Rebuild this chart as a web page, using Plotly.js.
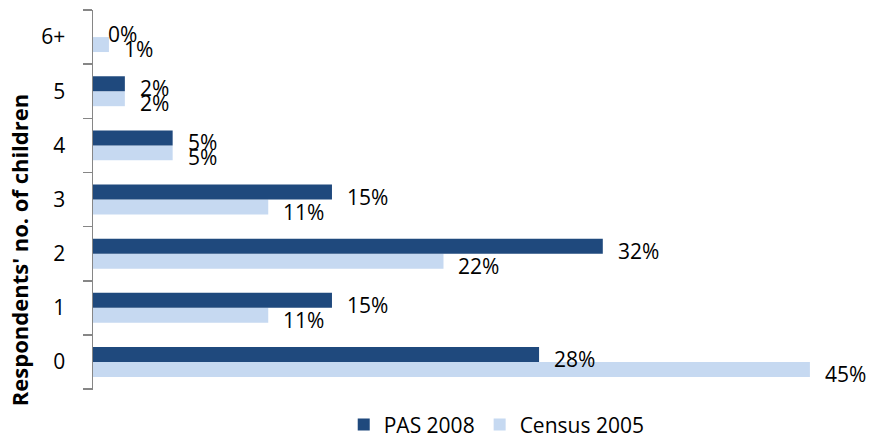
<!DOCTYPE html>
<html>
<head>
<meta charset="utf-8">
<script src="https://cdn.plot.ly/plotly-3.0.1.min.js"></script>
<style>html,body{margin:0;padding:0;background:#fff;}#chart{width:872px;height:440px;}</style>
</head>
<body>
<div id="chart"></div>
<script>
const categories = ["0", "1", "2", "3", "4", "5", "6+"];
const pas2008 = [28, 15, 32, 15, 5, 2, 0];
const census2005 = [45, 11, 22, 11, 5, 2, 1];
const seriesNames = ["PAS 2008", "Census 2005"];
const yTitle = "Respondents' no. of children";

const darkBlue = "#1F497D";
const lightBlue = "#C6D9F1";
const fontFam = "'Open Sans', 'Noto Sans', sans-serif";

const traces = [
  {
    type: "bar", orientation: "h", name: seriesNames[1],
    y: categories, x: census2005,
    marker: {color: lightBlue}, hoverinfo: "none"
  },
  {
    type: "bar", orientation: "h", name: seriesNames[0],
    y: categories, x: pas2008,
    marker: {color: darkBlue}, hoverinfo: "none"
  }
];

const annotations = [];
categories.forEach((c, i) => {
  annotations.push({
    x: pas2008[i], y: c, xref: "x", yref: "y",
    text: pas2008[i] + "%", showarrow: false,
    xanchor: "left", yanchor: "middle", xshift: 13, yshift: 3,
    font: {family: fontFam, size: 21, color: "#000"}
  });
  annotations.push({
    x: census2005[i], y: c, xref: "x", yref: "y",
    text: census2005[i] + "%", showarrow: false,
    xanchor: "left", yanchor: "middle", xshift: 13, yshift: -12,
    font: {family: fontFam, size: 21, color: "#000"}
  });
});
annotations.push({
  x: -0.0962, y: 0.368, xref: "paper", yref: "paper",
  text: yTitle, textangle: -90, showarrow: false,
  xanchor: "center", yanchor: "middle",
  font: {family: fontFam, size: 22, color: "#000", weight: "bold"}
});

const layout = {
  width: 872, height: 440,
  margin: {l: 93, r: 10, t: 10, b: 50, autoexpand: false},
  paper_bgcolor: "#fff", plot_bgcolor: "#fff",
  font: {family: fontFam, size: 21, color: "#000"},
  barmode: "group", bargap: 0.447, bargroupgap: 0,
  showlegend: true,
  legend: {
    orientation: "h", x: 0.525, xanchor: "center", y: -0.092, yanchor: "middle",
    traceorder: "reversed", font: {family: fontFam, size: 21, color: "#000"},
    borderwidth: 0, tracegroupgap: 0
  },
  xaxis: {
    range: [0, 48.27], showgrid: false, zeroline: false, showline: false,
    showticklabels: false, ticks: ""
  },
  yaxis: {
    type: "category", categoryorder: "array", categoryarray: categories,
    showgrid: false, zeroline: false,
    showline: true, linecolor: "#868686", linewidth: 1.5,
    ticks: "outside", tickson: "boundaries", ticklen: 9, tickcolor: "#868686", tickwidth: 1.5,
    ticklabelstandoff: 22,
    tickfont: {family: fontFam, size: 21, color: "#000"},
    automargin: false
  },
  annotations: annotations
};

Plotly.newPlot("chart", traces, layout, {displayModeBar: false, staticPlot: true});
</script>
</body>
</html>
